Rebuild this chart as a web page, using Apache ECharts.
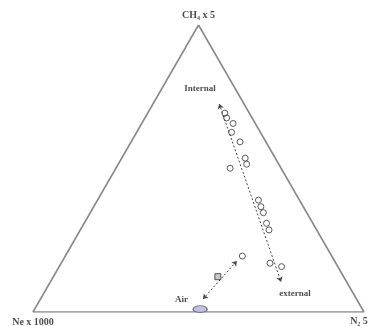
<!DOCTYPE html>
<html>
<head>
<meta charset="utf-8">
<script src="https://cdn.jsdelivr.net/npm/echarts@6/dist/echarts.min.js"></script>
<style>
  html, body { margin: 0; padding: 0; background: #fff; }
  #chart { width: 372px; height: 326px; }
</style>
</head>
<body>
<div id="chart"></div>
<script>
// Ternary composition of gas samples (percent): CH4 x 5, Ne x 1000, N2
const sampleCH4 = [69.3, 67.6, 65.7, 62.6, 59.3, 53.6, 51.5, 50.1, 39.0, 36.7, 34.6, 30.9, 28.6, 17.0, 15.8, 19.5];
const sampleNe  = [ 7.4,  7.7,  6.7,  8.7,  7.8,  9.1,  9.7, 15.4, 12.4, 12.8, 13.1, 14.0, 14.4, 19.9, 17.0, 27.0];
const sampleN2  = [23.3, 24.7, 27.6, 28.7, 32.9, 37.3, 38.8, 34.5, 48.6, 50.5, 52.3, 55.1, 57.0, 63.1, 67.2, 53.5];

// Mixed sample (square) and the air end-member
const mixCH4 = [12.3], mixNe = [38.0], mixN2 = [49.7];
const airCH4 = [1.0],  airNe = [49.0], airN2 = [50.0];

// Trend arrows: [CH4, Ne, N2] at each end
const trendInternal = [[72.5, 7.5, 20.0], [10.5, 19.8, 69.7]];
const trendAir      = [[4.5, 46.4, 49.1], [17.8, 29.5, 52.7]];

// Apex names and annotation texts
const apexNames = ['CH\u2084 x 5', 'Ne x 1000', 'N\u2082 5'];
const noteTexts = ['Internal', 'external', 'Air'];
const noteCH4 = [77.7, 6.3, 4.2], noteNe = [10.7, 17.7, 53.0], noteN2 = [11.6, 76.0, 42.8];

const H = Math.sqrt(3) / 2;
// ternary (CH4 top, Ne left, N2 right) -> cartesian
function tern(a, b, c) {
  const s = a + b + c;
  a /= s; c /= s;
  return [c + a / 2, a * H];
}

const samplePts = sampleCH4.map((v, i) => tern(v, sampleNe[i], sampleN2[i]));
const mixPts = mixCH4.map((v, i) => tern(v, mixNe[i], mixN2[i]));
const airPts = airCH4.map((v, i) => tern(v, airNe[i], airN2[i]));
const frame = [tern(100, 0, 0), tern(0, 100, 0), tern(0, 0, 100), tern(100, 0, 0)];

const serif = 'Liberation Serif';
const txt = { fontFamily: serif, fontWeight: 'bold', color: '#1a1a1a' };

const chart = echarts.init(document.getElementById('chart'), null, { renderer: 'canvas' });
chart.setOption({
  animation: false,
  grid: { left: 33, right: 8, top: 25, bottom: 14 },
  xAxis: { type: 'value', min: 0, max: 1, show: false },
  yAxis: { type: 'value', min: 0, max: H, show: false },
  series: [
    {
      type: 'line', data: frame, symbol: 'none', silent: true,
      lineStyle: { color: '#8a8a8a', width: 1.6 }, z: 1
    },
    {
      type: 'lines', coordinateSystem: 'cartesian2d', silent: true,
      symbol: ['arrow', 'arrow'], symbolSize: 5,
      lineStyle: { color: '#444', width: 1, type: [2, 2], opacity: 1 },
      data: [
        { coords: trendInternal.map(p => tern(p[0], p[1], p[2])) },
        { coords: trendAir.map(p => tern(p[0], p[1], p[2])) }
      ], z: 2
    },
    {
      type: 'scatter', data: samplePts, symbol: 'circle', symbolSize: 6,
      itemStyle: { color: 'rgba(255,255,255,0)', borderColor: '#333', borderWidth: 1 }, z: 3
    },
    {
      type: 'scatter', data: mixPts, symbol: 'rect', symbolSize: 6,
      itemStyle: { color: '#bbb', borderColor: '#333', borderWidth: 1 }, z: 3
    },
    {
      type: 'scatter', data: airPts, symbol: 'circle', symbolSize: [14, 7],
      itemStyle: { color: '#aeb2e2', borderColor: '#555', borderWidth: 1 }, z: 3
    },
    {
      type: 'scatter', symbolSize: 0, silent: true,
      data: [
        { value: tern(100, 0, 0), label: { offset: [0, -10] } },
        { value: tern(0, 100, 0), label: { offset: [0, 10] } },
        { value: tern(0, 0, 100), label: { offset: [-5, 9] } }
      ].map((d, i) => Object.assign(d, { name: apexNames[i] })),
      label: Object.assign({ show: true, position: 'inside', formatter: '{b}', fontSize: 10 }, txt)
    },
    {
      type: 'scatter', symbolSize: 0, silent: true,
      data: noteTexts.map((t, i) => ({ name: t, value: tern(noteCH4[i], noteNe[i], noteN2[i]) })),
      label: Object.assign({ show: true, position: 'inside', formatter: '{b}', fontSize: 9 }, txt)
    }
  ]
});
</script>
</body>
</html>
